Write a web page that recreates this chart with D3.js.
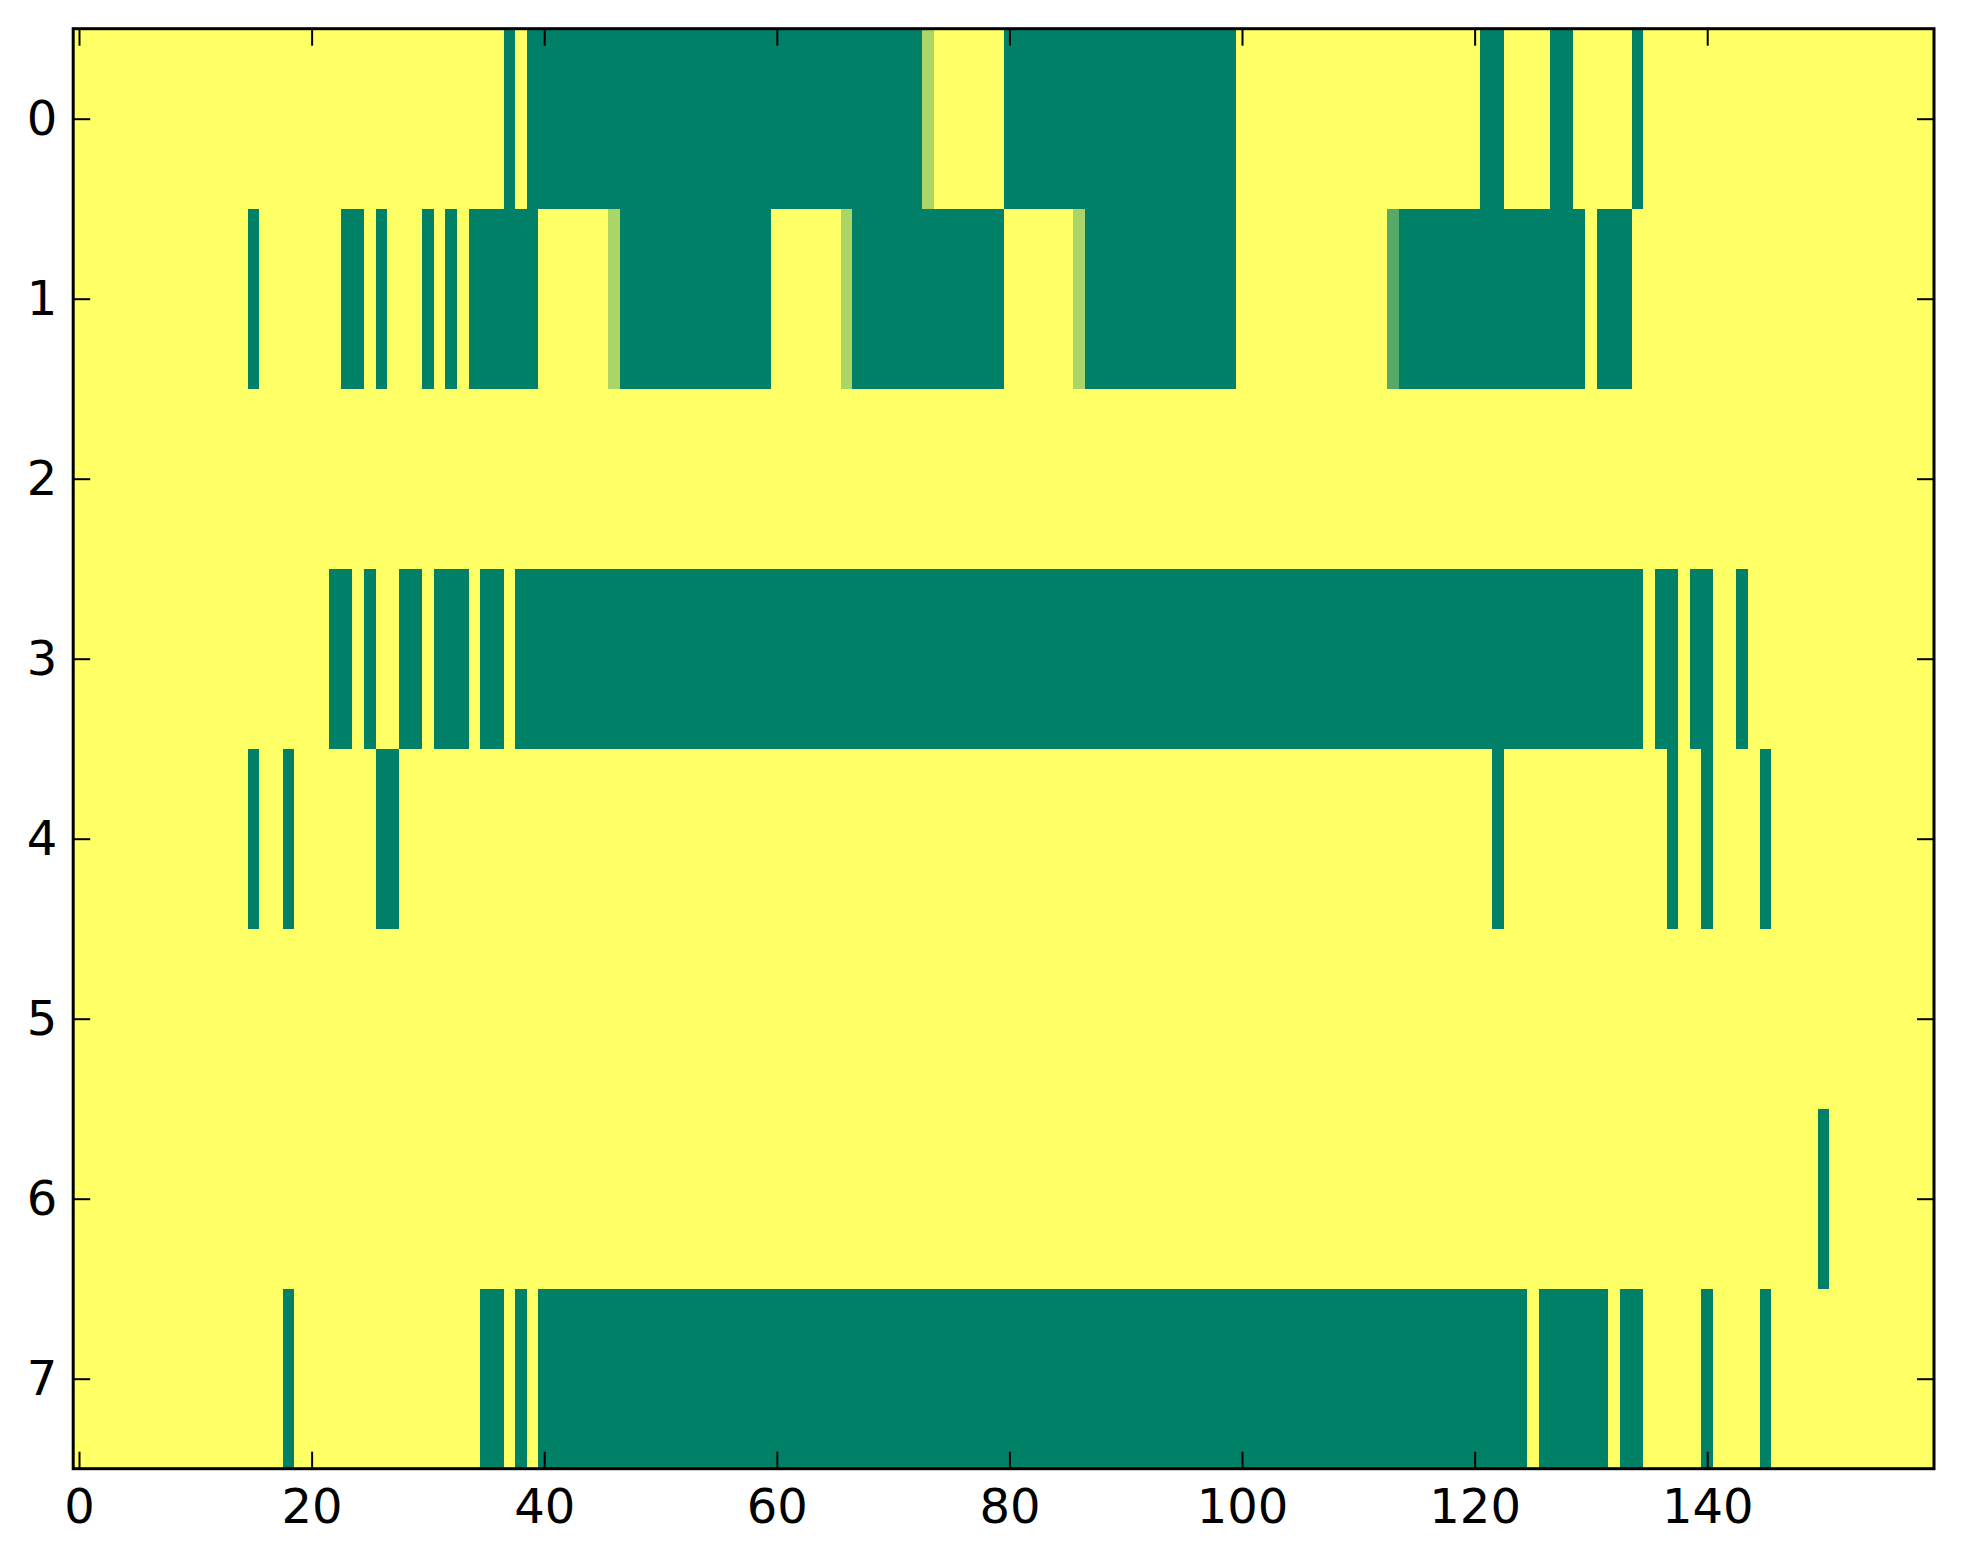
<!DOCTYPE html>
<html>
<head>
<meta charset="utf-8">
<script src="https://cdn.jsdelivr.net/npm/d3@7"></script>
<style>
  html, body { margin: 0; padding: 0; background: #ffffff; }
  svg { display: block; }
  text { font-family: "DejaVu Sans", sans-serif; }
</style>
</head>
<body>
<div id="chart"></div>
<script>
// ---- data ----
// each row is a list of runs: [value, number of consecutive columns]
// value 0 = dark green end of the colormap, 1 = yellow end
const nCols = 160;
const rowLabels = [0, 1, 2, 3, 4, 5, 6, 7];
const xTickValues = [0, 20, 40, 60, 80, 100, 120, 140];

const row0 = [[1,37],[0,1],[1,1],[0,34],[0.67,1],[1,6],[0,20],[1,21],[0,2],[1,4],[0,2],[1,5],[0,1],[1,25]];
const row1 = [[1,15],[0,1],[1,7],[0,2],[1,1],[0,1],[1,3],[0,1],[1,1],[0,1],[1,1],[0,6],[1,6],[0.67,1],[0,13],[1,6],[0.67,1],[0,13],[1,6],[0.67,1],[0,13],[1,13],[0.33,1],[0,16],[1,1],[0,3],[1,26]];
const row2 = [[1,160]];
const row3 = [[1,22],[0,2],[1,1],[0,1],[1,2],[0,2],[1,1],[0,3],[1,1],[0,2],[1,1],[0,97],[1,1],[0,2],[1,1],[0,2],[1,2],[0,1],[1,16]];
const row4 = [[1,15],[0,1],[1,2],[0,1],[1,7],[0,2],[1,94],[0,1],[1,14],[0,1],[1,2],[0,1],[1,4],[0,1],[1,14]];
const row5 = [[1,160]];
const row6 = [[1,150],[0,1],[1,9]];
const row7 = [[1,18],[0,1],[1,16],[0,2],[1,1],[0,1],[1,1],[0,85],[1,1],[0,6],[1,1],[0,2],[1,5],[0,1],[1,4],[0,1],[1,14]];
const rows = [row0, row1, row2, row3, row4, row5, row6, row7];

// ---- layout ----
const W = 1963, H = 1564;
const plot = { left: 73.2, right: 1934, top: 28.7, bottom: 1468.7 };

const svg = d3.select("#chart").append("svg")
  .attr("width", W).attr("height", H)
  .attr("viewBox", `0 0 ${W} ${H}`);

const x = d3.scaleLinear().domain([-0.5, nCols - 0.5]).range([plot.left, plot.right]);
const y = d3.scaleLinear().domain([-0.5, rowLabels.length - 0.5]).range([plot.top, plot.bottom]);

// matplotlib "summer" colormap: (v, 0.5+0.5v, 0.4)
const color = d3.scaleLinear().domain([0, 1])
  .range(["rgb(0,128,102)", "rgb(255,255,102)"])
  .interpolate(d3.interpolateRgb);

// build cells (runs of equal value) from the data
const cells = [];
rows.forEach((runs, r) => {
  let start = 0;
  runs.forEach(([v, n]) => {
    cells.push({ row: r, start: start, count: n, value: v });
    start += n;
  });
});

svg.append("g").attr("class", "cells")
  .selectAll("rect").data(cells).join("rect")
  .attr("x", d => x(d.start - 0.5))
  .attr("y", d => y(d.row - 0.5))
  .attr("width", d => x(d.start + d.count - 0.5) - x(d.start - 0.5))
  .attr("height", d => y(d.row + 0.5) - y(d.row - 0.5))
  .attr("fill", d => color(d.value))
  .attr("shape-rendering", "crispEdges");

// ---- axes (ticks inward, on all four sides) ----
const tickLen = 17;
const fontSize = 48;

function styleAxis(g) {
  g.select(".domain").remove();
  g.selectAll(".tick line").attr("stroke", "#000").attr("stroke-width", 2);
  g.selectAll(".tick text").attr("fill", "#000")
    .style("font-family", '"DejaVu Sans", sans-serif')
    .style("font-size", fontSize + "px");
}

svg.append("g")
  .attr("transform", `translate(${plot.left},0)`)
  .call(d3.axisLeft(y).tickValues(rowLabels).tickFormat(d3.format("d"))
        .tickSizeInner(-tickLen).tickSizeOuter(0).tickPadding(16))
  .call(styleAxis);

svg.append("g")
  .attr("transform", `translate(${plot.right},0)`)
  .call(d3.axisRight(y).tickValues(rowLabels).tickFormat("")
        .tickSizeInner(-tickLen).tickSizeOuter(0))
  .call(styleAxis);

svg.append("g")
  .attr("transform", `translate(0,${plot.bottom})`)
  .call(d3.axisBottom(x).tickValues(xTickValues).tickFormat(d3.format("d"))
        .tickSizeInner(-tickLen).tickSizeOuter(0).tickPadding(20))
  .call(styleAxis);

svg.append("g")
  .attr("transform", `translate(0,${plot.top})`)
  .call(d3.axisTop(x).tickValues(xTickValues).tickFormat("")
        .tickSizeInner(-tickLen).tickSizeOuter(0))
  .call(styleAxis);

// frame
svg.append("rect")
  .attr("x", plot.left).attr("y", plot.top)
  .attr("width", plot.right - plot.left)
  .attr("height", plot.bottom - plot.top)
  .attr("fill", "none")
  .attr("stroke", "#000")
  .attr("stroke-width", 3);
</script>
</body>
</html>
